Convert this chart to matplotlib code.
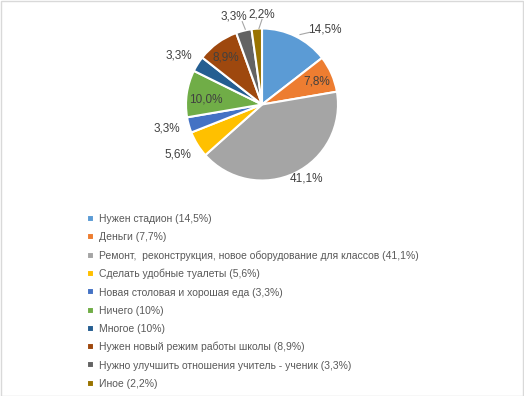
import matplotlib
matplotlib.use("Agg")
import matplotlib.pyplot as plt
from matplotlib.patches import Rectangle

plt.rcParams['font.family'] = ['Liberation Sans', 'DejaVu Sans']

categories = [
    "Нужен стадион (14,5%)",
    "Деньги (7,7%)",
    "Ремонт,  реконструкция, новое оборудование для классов (41,1%)",
    "Сделать удобные туалеты (5,6%)",
    "Новая столовая и хорошая еда (3,3%)",
    "Ничего (10%)",
    "Многое (10%)",
    "Нужен новый режим работы школы (8,9%)",
    "Нужно улучшить отношения учитель - ученик (3,3%)",
    "Иное (2,2%)",
]
values = [14.5, 7.8, 41.1, 5.6, 3.3, 10.0, 3.3, 8.9, 3.3, 2.2]
value_labels = ["14,5%", "7,8%", "41,1%", "5,6%", "3,3%", "10,0%", "3,3%", "8,9%", "3,3%", "2,2%"]
colors = ["#5B9BD5", "#ED7D31", "#A5A5A5", "#FFC000", "#4472C4",
          "#70AD47", "#255E91", "#9E480E", "#636363", "#997300"]

# label placement (pie radius units)
label_pos = [(0.83, 0.99), (0.72, 0.30), (0.58, -0.98), (-1.11, -0.66), (-1.25, -0.32),
             (-0.74, 0.07), (-1.09, 0.64), (-0.47, 0.62), (-0.37, 1.16), (0.0, 1.19)]
leaders = {0: ((0.50, 0.92), (0.63, 0.95)),
           8: ((-0.22, 0.99), (-0.26, 1.09)),
           9: ((-0.04, 1.0), (0.0, 1.12))}

W, H = 524, 396
fig = plt.figure(figsize=(W / 100, H / 100), dpi=100)
cx, cy, r = 262, 104.5, 76
ax = fig.add_axes([(cx - r) / W, 1 - (cy + r) / H, 2 * r / W, 2 * r / H])
wedges, _ = ax.pie(values, colors=colors, startangle=90, counterclock=False,
                   wedgeprops=dict(edgecolor="white", linewidth=1.5))
ax.set_xlim(-1, 1)
ax.set_ylim(-1, 1)
ax.set_aspect('equal')
ax.axis('off')

for i, (lab, (x, y)) in enumerate(zip(value_labels, label_pos)):
    ax.text(x, y, lab, ha='center', va='center', fontsize=8.5, color='#404040')
for i, (p0, p1) in leaders.items():
    ax.plot([p0[0], p1[0]], [p0[1], p1[1]], color='#A6A6A6', lw=0.8, clip_on=False)

leg = fig.legend(wedges, categories, loc='upper left',
                 bbox_to_anchor=(83 / W, 1 - 210 / H), frameon=False,
                 fontsize=7.5, handlelength=0.65, handleheight=0.65,
                 handletextpad=0.45, labelspacing=0.78, borderaxespad=0)
for t in leg.get_texts():
    t.set_color('#595959')

fig.patches.append(Rectangle((0.5 / W, 0.5 / H), 1 - 1.5 / W, 1 - 1.5 / H,
                             transform=fig.transFigure, fill=False,
                             edgecolor='#D9D9D9', lw=1))
fig.savefig("out.png", dpi=100)
